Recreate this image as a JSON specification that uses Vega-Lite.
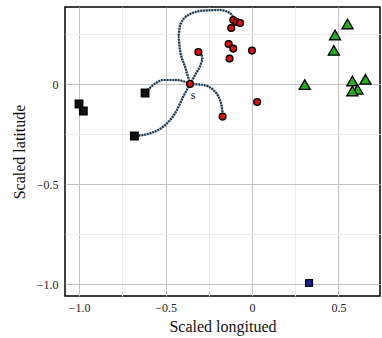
{
  "$schema": "https://vega.github.io/schema/vega-lite/v6.json",
  "width": 315,
  "height": 289,
  "autosize": {"type": "none"},
  "padding": {"left": 65, "top": 7, "right": 2, "bottom": 42},
  "background": "white",
  "config": {
    "font": "Liberation Serif",
    "view": {"stroke": "black", "strokeWidth": 1.5},
    "axis": {
      "labelFont": "Liberation Serif",
      "titleFont": "Liberation Serif",
      "labelFontSize": 12,
      "titleFontSize": 16,
      "titleFontWeight": "normal",
      "labelColor": "#222",
      "titleColor": "#111",
      "domain": false,
      "ticks": false,
      "grid": true,
      "gridColor": {"condition": {"test": "abs(datum.value*2 - round(datum.value*2)) > 0.01", "value": "#ececec"}, "value": "#c4c4c4"},
      "gridWidth": 1
    }
  },
  "datasets": {
    "pts": [
      {"lon": -1.0, "lat": -0.1, "group": "black"},
      {"lon": -0.975, "lat": -0.135, "group": "black"},
      {"lon": -0.618, "lat": -0.045, "group": "black"},
      {"lon": -0.68, "lat": -0.26, "group": "black"},
      {"lon": -0.358, "lat": 0.0, "group": "red"},
      {"lon": -0.31, "lat": 0.16, "group": "red"},
      {"lon": -0.108, "lat": 0.32, "group": "red"},
      {"lon": -0.088, "lat": 0.31, "group": "red"},
      {"lon": -0.069, "lat": 0.305, "group": "red"},
      {"lon": -0.12, "lat": 0.28, "group": "red"},
      {"lon": -0.135, "lat": 0.2, "group": "red"},
      {"lon": -0.108, "lat": 0.177, "group": "red"},
      {"lon": -0.13, "lat": 0.127, "group": "red"},
      {"lon": 0.0, "lat": 0.167, "group": "red"},
      {"lon": 0.03, "lat": -0.09, "group": "red"},
      {"lon": -0.17, "lat": -0.163, "group": "red"},
      {"lon": 0.305, "lat": -0.003, "group": "green"},
      {"lon": 0.552, "lat": 0.3, "group": "green"},
      {"lon": 0.48, "lat": 0.245, "group": "green"},
      {"lon": 0.473, "lat": 0.168, "group": "green"},
      {"lon": 0.58, "lat": 0.015, "group": "green"},
      {"lon": 0.656, "lat": 0.023, "group": "green"},
      {"lon": 0.61, "lat": -0.027, "group": "green"},
      {"lon": 0.58, "lat": -0.035, "group": "green"},
      {"lon": 0.33, "lat": -0.995, "group": "blue"}
    ],
    "paths": [
      {"route": "A", "ord": 0, "lon": -0.358, "lat": 0.0},
      {"route": "A", "ord": 1, "lon": -0.387, "lat": 0.087},
      {"route": "A", "ord": 2, "lon": -0.416, "lat": 0.17},
      {"route": "A", "ord": 3, "lon": -0.426, "lat": 0.237},
      {"route": "A", "ord": 4, "lon": -0.416, "lat": 0.295},
      {"route": "A", "ord": 5, "lon": -0.368, "lat": 0.345},
      {"route": "A", "ord": 6, "lon": -0.282, "lat": 0.367},
      {"route": "A", "ord": 7, "lon": -0.185, "lat": 0.37},
      {"route": "A", "ord": 8, "lon": -0.127, "lat": 0.354},
      {"route": "A", "ord": 9, "lon": -0.098, "lat": 0.32},
      {"route": "B", "ord": 0, "lon": -0.358, "lat": 0.0},
      {"route": "B", "ord": 1, "lon": -0.329, "lat": 0.045},
      {"route": "B", "ord": 2, "lon": -0.301, "lat": 0.087},
      {"route": "B", "ord": 3, "lon": -0.285, "lat": 0.12},
      {"route": "B", "ord": 4, "lon": -0.291, "lat": 0.145},
      {"route": "B", "ord": 5, "lon": -0.31, "lat": 0.16},
      {"route": "C", "ord": 0, "lon": -0.358, "lat": 0.0},
      {"route": "C", "ord": 1, "lon": -0.282, "lat": -0.005},
      {"route": "C", "ord": 2, "lon": -0.224, "lat": -0.03},
      {"route": "C", "ord": 3, "lon": -0.185, "lat": -0.08},
      {"route": "C", "ord": 4, "lon": -0.172, "lat": -0.13},
      {"route": "C", "ord": 5, "lon": -0.17, "lat": -0.163},
      {"route": "D", "ord": 0, "lon": -0.358, "lat": 0.0},
      {"route": "D", "ord": 1, "lon": -0.435, "lat": 0.02},
      {"route": "D", "ord": 2, "lon": -0.513, "lat": 0.02},
      {"route": "D", "ord": 3, "lon": -0.571, "lat": -0.005},
      {"route": "D", "ord": 4, "lon": -0.618, "lat": -0.045},
      {"route": "E", "ord": 0, "lon": -0.358, "lat": 0.0},
      {"route": "E", "ord": 1, "lon": -0.397, "lat": -0.063},
      {"route": "E", "ord": 2, "lon": -0.445, "lat": -0.147},
      {"route": "E", "ord": 3, "lon": -0.513, "lat": -0.213},
      {"route": "E", "ord": 4, "lon": -0.59, "lat": -0.247},
      {"route": "E", "ord": 5, "lon": -0.68, "lat": -0.26}
    ],
    "labels": [
      {"lon": -0.358, "lat": 0.0, "text": "s"}
    ]
  },
  "encoding": {
    "x": {
      "field": "lon", "type": "quantitative",
      "scale": {"domain": [-1.081, 0.74], "nice": false, "zero": false},
      "axis": {
        "title": "Scaled  longitued",
        "values": [-1, -0.75, -0.5, -0.25, 0, 0.25, 0.5],
        "labelExpr": "abs(datum.value*2 - round(datum.value*2)) > 0.01 ? '' : (datum.value == 0 ? '0' : format(datum.value, '.1f'))",
        "labelPadding": 6,
        "titlePadding": 5
      }
    },
    "y": {
      "field": "lat", "type": "quantitative",
      "scale": {"domain": [-1.06, 0.385], "nice": false, "zero": false},
      "axis": {
        "title": "Scaled  latitude",
        "values": [-1, -0.75, -0.5, -0.25, 0, 0.25],
        "labelExpr": "abs(datum.value*2 - round(datum.value*2)) > 0.01 ? '' : (datum.value == 0 ? '0' : format(datum.value, '.1f'))",
        "labelPadding": 7,
        "titlePadding": 9
      }
    }
  },
  "layer": [
    {
      "data": {"name": "paths"},
      "mark": {"type": "line", "interpolate": "monotone", "color": "#9fb3c2", "strokeWidth": 2.2},
      "encoding": {"detail": {"field": "route"}, "order": {"field": "ord", "type": "quantitative"}}
    },
    {
      "data": {"name": "paths"},
      "mark": {"type": "line", "interpolate": "monotone", "color": "#16324a", "strokeWidth": 2.2, "strokeDash": [1.6, 1.2]},
      "encoding": {"detail": {"field": "route"}, "order": {"field": "ord", "type": "quantitative"}}
    },
    {
      "data": {"name": "pts"},
      "mark": {"type": "point", "filled": true, "stroke": "black", "strokeWidth": 1.4, "opacity": 1},
      "encoding": {
        "shape": {"field": "group", "type": "nominal", "scale": {"domain": ["black", "red", "green", "blue"], "range": ["square", "circle", "triangle-up", "square"]}, "legend": null},
        "fill": {"field": "group", "type": "nominal", "scale": {"domain": ["black", "red", "green", "blue"], "range": ["#111111", "#e0100c", "#1fb01a", "#1a1f9c"]}, "legend": null},
        "size": {"field": "group", "type": "nominal", "scale": {"type": "ordinal", "domain": ["black", "red", "green", "blue"], "range": [55, 46, 120, 45]}, "legend": null}
      }
    },
    {
      "data": {"name": "labels"},
      "mark": {"type": "text", "font": "Liberation Serif", "fontSize": 12, "dx": 3, "dy": 11, "color": "#111"},
      "encoding": {"text": {"field": "text"}}
    }
  ]
}
